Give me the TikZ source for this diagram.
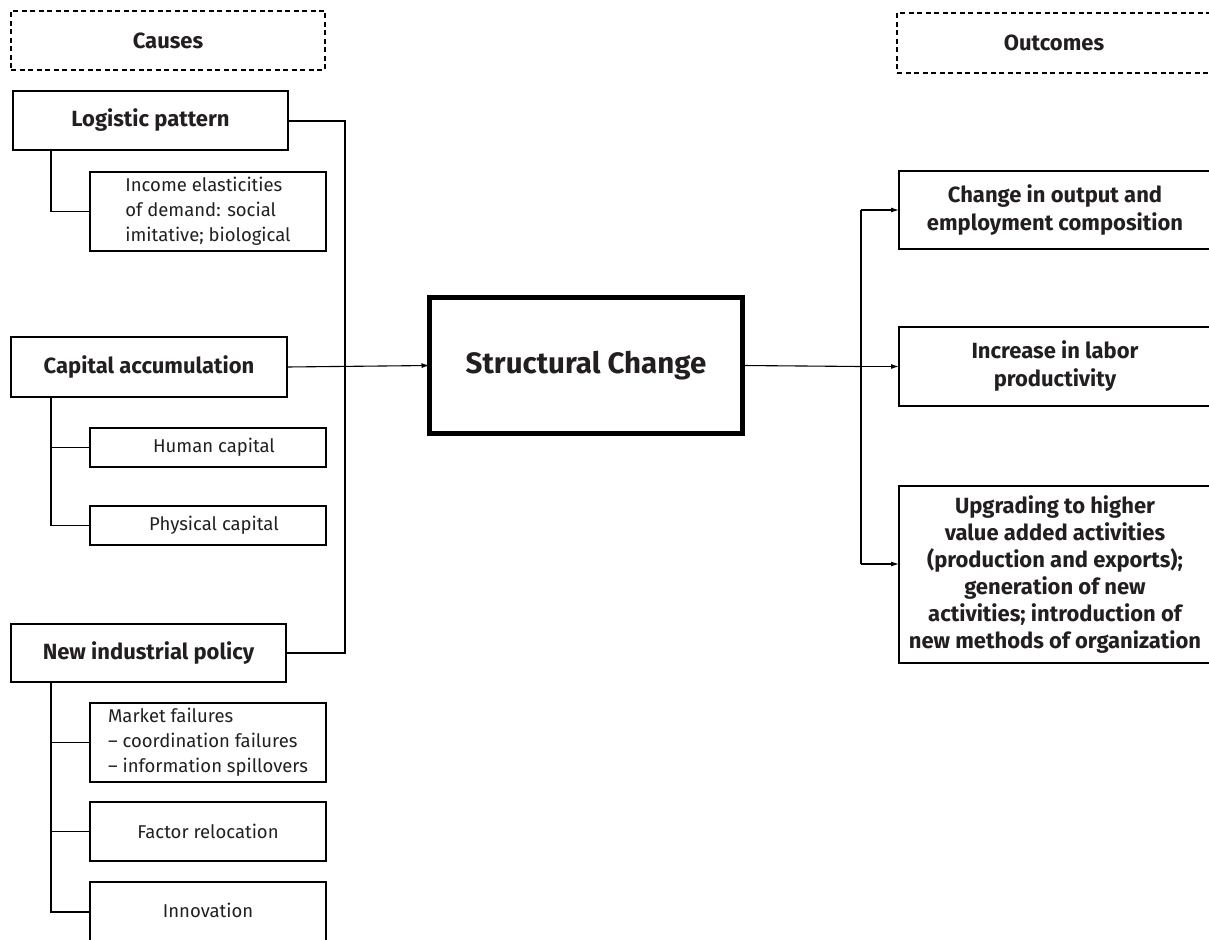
\documentclass[tikz,border=0pt]{standalone}
\usepackage{fontspec}
\setmainfont{Fira Sans}
\usetikzlibrary{arrows.meta}
\definecolor{ink}{HTML}{231F20}
\begin{document}
\begin{tikzpicture}[x=1pt,y=-1pt,
  box/.style={draw=black,line width=1.1pt,rectangle,inner sep=0pt,outer sep=0pt,text=ink,align=center},
  dbox/.style={box,line width=1.3pt,dash pattern=on 5pt off 3.5pt},
  head/.style={font=\bfseries\fontsize{22}{26}\selectfont},
  sub/.style={font=\fontsize{18.5}{25}\selectfont},
  outt/.style={font=\bfseries\fontsize{22}{28}\selectfont},
  conn/.style={draw=black,line width=1.1pt},
  arr/.style={conn,-{Latex[length=8pt,width=5pt]}}]
\useasboundingbox (0,0) rectangle (1209,939);
\clip (0,0) rectangle (1209,939);
% headers
\node[dbox,head,minimum width=314pt,minimum height=59pt] (causes) at (168,40.5) {Causes};
\node[dbox,head,minimum width=314pt,minimum height=60pt] (outc) at (1054,43) {Outcomes};
% causes
\node[box,head,minimum width=275pt,minimum height=59pt] (lp) at (150.5,120.5) {Logistic pattern};
\node[box,sub,minimum width=236pt,minimum height=79pt] (ie) at (208,211.5) {\begin{tabular}{@{}l@{}}Income elasticities\\of demand: social\\imitative; biological\end{tabular}};
\node[box,head,minimum width=276pt,minimum height=60pt] (ca) at (149,367) {Capital accumulation};
\node[box,sub,minimum width=236pt,minimum height=39pt] (hc) at (208,447.5) {\hspace*{12pt}Human capital};
\node[box,sub,minimum width=236pt,minimum height=39pt] (pc) at (208,525.5) {\hspace*{12pt}Physical capital};
\node[box,head,minimum width=275pt,minimum height=58pt] (nip) at (148.5,653) {New industrial policy};
\node[box,sub,minimum width=236pt,minimum height=79pt] (mf) at (208,742.5) {\begin{tabular}{@{}l@{}}Market failures\\– coordination failures\\– information spillovers\end{tabular}};
\node[box,sub,minimum width=236pt,minimum height=59pt] (fr) at (208,831.5) {Factor relocation};
\node[box,sub,minimum width=236pt,minimum height=60pt] (inn) at (208,912) {\raisebox{4pt}{Innovation}};
% centre
\node[box,line width=4.5pt,font=\bfseries\fontsize{29.5}{34}\selectfont,minimum width=313pt,minimum height=136pt] (sc) at (586,365.5) {Structural Change};
% outcomes
\node[box,outt,minimum width=312pt,minimum height=78pt] (o1) at (1055,210) {Change in output and\\employment composition};
\node[box,outt,minimum width=312pt,minimum height=79pt] (o2) at (1055,366.5) {Increase in labor\\productivity};
\node[box,outt,font=\bfseries\fontsize{22}{27}\selectfont,minimum width=312pt,minimum height=177pt] (o3) at (1055,574.5) {Upgrading to higher\\value added activities\\(production and exports);\\generation of new\\activities; introduction of\\new methods of organization};
% connector coordinates
\coordinate (bt) at (345,121);
\coordinate (bb) at (345,653);
\coordinate (t1) at (51,150);
\coordinate (t2) at (51,397);
\coordinate (t3) at (51,682);
\coordinate (jt) at (861,210);
\coordinate (jm) at (861,366.5);
\coordinate (jb) at (861,564);
% left connectors
\draw[conn] (lp.east |- bt) -- (bt) -- (bb) -- (nip.east |- bb);
\draw[arr] (ca.east) -- (sc.west);
\draw[conn] (t1) |- (ie.west);
\draw[conn] (t2) |- (hc.west);
\draw[conn] (t2) |- (pc.west);
\draw[conn] (t3) |- (mf.west);
\draw[conn] (t3) |- (fr.west);
\draw[conn] (t3) |- (inn.west);
% right connectors
\draw[conn] (sc.east) -- (jm);
\draw[conn] (jt) -- (jb);
\draw[arr] (jt) -- (o1.west);
\draw[arr] (jm) -- (o2.west);
\draw[arr] (jb) -- (jb -| o3.west);
\end{tikzpicture}
\end{document}
